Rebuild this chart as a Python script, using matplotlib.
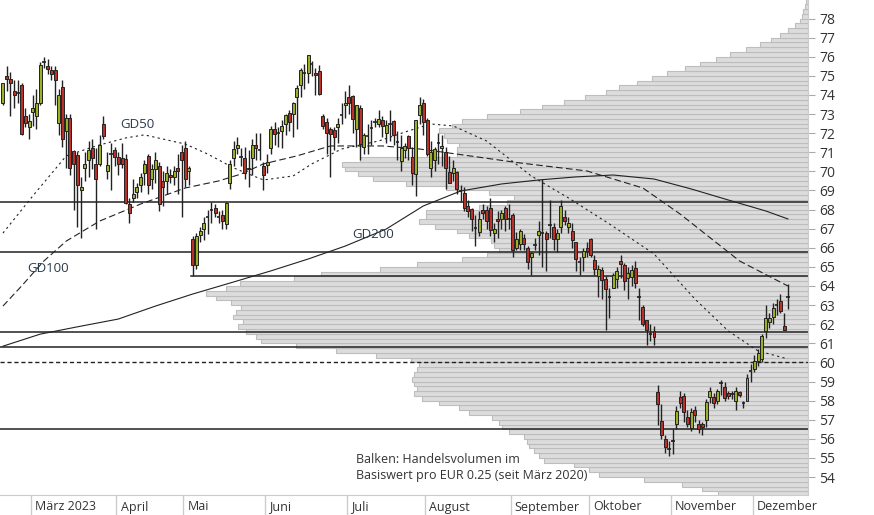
import numpy as np
import pandas as pd
import matplotlib
matplotlib.use("Agg")
import matplotlib.pyplot as plt
from matplotlib.transforms import blended_transform_factory

plt.rcParams["font.family"] = ["Open Sans", "DejaVu Sans"]

# ---- daily candles (EUR), Feb 17 2023 .. Dec 6 2023 ----
opens = [
    73.6, 75.0, 74.85, 74.2, 74.1, 74.5, 72.9, 72.3, 73.1, 72.9, 73.6, 75.7, 75.5, 75.3, 75.3, 72.55,
    74.4, 72.1, 72.8, 71.05, 70.85, 69.0, 70.2, 70.6, 71.2, 70.4, 70.4, 72.5, 70.0, 70.9, 71.1, 70.75,
    70.7, 70.65, 68.3, 68.6, 68.9, 69.3, 69.9, 70.8, 69.6, 70.1, 70.3, 69.5, 69.5, 69.8, 69.7, 70.2,
    71.0, 71.2, 70.0, 66.45, 65.1, 66.65, 67.0, 67.6, 68.0, 68.1, 67.6, 67.7, 67.25, 69.4, 70.7, 71.2,
    70.75, 70.7, 70.1, 70.7, 71.4, 71.1, 70.3, 70.35, 71.2, 72.2, 72.0, 72.1, 72.5, 73.05, 73.0, 73.9,
    74.5, 75.15, 75.15, 75.6, 75.15, 75.25, 72.9, 72.6, 72.2, 72.15, 72.3, 72.95, 73.5, 73.9, 73.95, 72.2,
    73.3, 71.3, 71.85, 72.25, 72.6, 72.5, 72.7, 72.0, 72.55, 72.65, 71.55, 70.55, 71.1, 71.85, 70.75, 69.85,
    72.95, 73.6, 72.7, 70.2, 70.6, 71.5, 71.2, 71.0, 69.95, 69.9, 69.95, 68.95, 68.85, 68.2, 68.05, 67.05,
    66.85, 68.0, 68.0, 68.1, 66.8, 67.5, 67.5, 68.1, 67.5, 67.7, 66.0, 66.2, 66.5, 66.0, 65.5, 66.15,
    66.65, 66.8, 66.8, 67.2, 67.1, 66.45, 67.1, 67.6, 67.1, 66.9, 66.3, 65.25, 65.5, 66.0, 66.45, 65.35,
    64.5, 64.85, 64.35, 63.4, 63.9, 64.35, 65.3, 65.1, 64.4, 64.45, 64.95, 63.4, 62.9, 62.2, 61.5, 61.65,
    58.45, 56.95, 56.0, 55.45, 55.9, 56.8, 58.2, 58.25, 57.15, 56.55, 57.5, 56.8, 56.8, 57.0, 58.2, 58.2,
    58.0, 58.9, 58.7, 58.4, 58.35, 58.0, 58.45, 57.9, 58.0, 59.55, 59.65, 60.1, 60.2, 61.65, 62.1, 62.4,
    63.0, 63.2, 61.9, 63.4,
]
highs = [
    74.65, 75.5, 75.2, 74.8, 74.8, 74.6, 73.3, 73.0, 74.0, 74.3, 75.7, 76.0, 75.9, 75.5, 75.5, 74.3,
    74.8, 73.0, 73.0, 71.1, 71.0, 69.7, 71.0, 71.6, 71.7, 71.2, 71.9, 72.9, 71.0, 71.5, 71.3, 71.0,
    71.5, 70.9, 68.6, 69.6, 69.4, 69.9, 70.6, 70.9, 70.4, 71.0, 70.5, 70.0, 70.3, 70.1, 70.3, 70.9,
    71.4, 71.6, 70.3, 66.6, 66.8, 67.1, 67.6, 68.0, 68.4, 68.3, 67.9, 68.0, 68.4, 70.6, 71.6, 71.8,
    71.2, 71.3, 71.1, 71.7, 72.0, 72.0, 70.5, 70.9, 72.4, 72.6, 72.3, 72.7, 73.0, 73.2, 73.65, 74.5,
    75.4, 75.6, 76.1, 75.8, 75.4, 75.55, 73.0, 72.8, 72.3, 72.3, 72.8, 73.6, 74.2, 74.5, 74.0, 73.5,
    73.5, 72.0, 72.5, 72.7, 72.8, 73.2, 72.9, 72.7, 73.2, 72.7, 72.1, 71.9, 71.5, 71.9, 71.3, 72.7,
    73.9, 73.8, 72.8, 71.6, 71.3, 72.0, 71.9, 71.3, 70.8, 70.6, 70.0, 69.3, 69.2, 68.5, 68.1, 67.7,
    67.9, 68.3, 68.2, 68.6, 67.3, 67.9, 68.0, 68.2, 68.3, 67.8, 66.85, 67.0, 66.7, 66.1, 65.8, 66.5,
    67.4, 69.6, 66.9, 68.5, 67.3, 67.0, 68.5, 68.0, 67.6, 67.3, 66.3, 65.5, 66.0, 66.3, 66.5, 65.6,
    65.1, 65.0, 64.5, 63.9, 64.7, 65.0, 65.6, 65.2, 65.0, 65.1, 65.3, 63.9, 63.0, 62.2, 62.0, 61.9,
    58.8, 57.8, 56.2, 55.9, 56.5, 57.7, 58.5, 58.4, 57.5, 57.6, 57.7, 57.0, 56.9, 58.1, 58.7, 58.4,
    58.6, 59.1, 59.0, 58.5, 58.5, 58.7, 58.5, 58.0, 59.4, 59.9, 60.4, 60.7, 61.5, 63.0, 62.6, 63.1,
    63.3, 63.6, 62.6, 64.1,
]
lows = [
    73.45, 74.2, 72.9, 73.3, 73.6, 71.9, 72.3, 71.7, 72.4, 72.2, 73.5, 75.4, 75.1, 74.8, 73.5, 71.9,
    71.3, 70.2, 69.8, 68.0, 67.1, 66.5, 69.5, 69.7, 70.1, 67.0, 70.3, 71.7, 69.6, 69.0, 70.3, 69.8,
    70.2, 68.3, 67.3, 68.4, 68.6, 68.9, 69.3, 68.8, 69.1, 69.4, 67.9, 68.2, 68.8, 69.4, 69.3, 68.8,
    67.6, 69.2, 69.3, 64.5, 64.9, 66.3, 66.4, 66.7, 67.3, 67.6, 67.3, 67.0, 67.0, 69.1, 70.3, 70.9,
    70.3, 69.6, 69.2, 69.8, 70.6, 70.6, 69.0, 69.9, 70.9, 71.4, 71.3, 71.2, 71.9, 72.1, 71.8, 72.2,
    73.9, 74.3, 74.6, 75.0, 74.0, 74.0, 72.2, 70.9, 69.7, 71.1, 71.5, 72.5, 72.8, 73.0, 72.0, 71.3,
    70.6, 70.9, 70.9, 71.4, 72.3, 72.3, 71.8, 71.5, 71.6, 71.4, 70.6, 70.0, 70.7, 70.6, 69.3, 68.7,
    72.5, 71.9, 70.8, 69.7, 70.0, 70.4, 70.3, 69.1, 69.4, 69.5, 68.8, 68.4, 67.9, 67.6, 66.9, 66.1,
    66.6, 67.5, 67.0, 66.6, 66.3, 66.5, 67.0, 66.9, 67.0, 65.5, 65.9, 65.9, 65.9, 64.9, 64.6, 65.9,
    65.6, 65.0, 64.8, 66.5, 65.9, 65.8, 66.8, 67.2, 66.8, 66.0, 64.8, 64.6, 64.8, 65.5, 65.5, 64.6,
    63.4, 63.3, 61.7, 62.3, 63.9, 63.9, 64.4, 63.8, 63.3, 64.0, 63.9, 62.2, 61.9, 60.9, 61.1, 60.9,
    56.7, 56.0, 55.25, 55.1, 55.2, 56.5, 57.6, 56.9, 56.6, 56.4, 56.9, 56.3, 56.2, 56.6, 57.9, 57.6,
    57.8, 58.3, 58.0, 58.1, 58.1, 57.5, 58.2, 57.6, 58.0, 59.0, 59.5, 59.8, 60.0, 61.3, 61.8, 62.0,
    62.5, 62.6, 61.7, 62.8,
]
closes = [
    74.6, 74.85, 74.6, 74.0, 74.1, 71.95, 72.55, 72.65, 73.3, 73.6, 75.55, 75.7, 75.35, 75.1, 74.8, 74.0,
    71.7, 72.8, 70.2, 70.4, 69.3, 69.2, 70.4, 71.1, 70.7, 69.6, 71.4, 71.85, 70.35, 70.9, 70.75, 70.4,
    70.4, 68.35, 67.8, 68.8, 69.2, 69.7, 70.4, 69.3, 70.1, 70.6, 68.3, 69.2, 69.9, 69.7, 70.0, 70.0,
    70.6, 69.6, 70.2, 65.1, 66.6, 66.9, 67.3, 67.6, 68.0, 67.8, 67.6, 67.4, 68.35, 70.4, 71.15, 71.4,
    70.75, 69.9, 70.2, 71.4, 71.2, 71.1, 69.8, 70.5, 72.2, 71.95, 72.0, 72.4, 72.95, 72.6, 73.6, 74.35,
    75.3, 75.15, 76.1, 75.6, 75.05, 74.05, 72.4, 72.0, 71.95, 71.8, 72.5, 72.95, 73.6, 73.6, 72.75, 73.5,
    71.45, 71.9, 71.85, 72.25, 72.6, 72.75, 72.4, 72.45, 72.5, 71.9, 71.55, 71.2, 71.35, 71.2, 69.9, 72.7,
    73.5, 72.6, 70.9, 71.0, 71.15, 71.5, 71.35, 70.2, 69.4, 70.2, 69.1, 68.95, 68.1, 67.95, 67.5, 67.05,
    67.5, 67.8, 67.4, 66.95, 67.0, 67.4, 67.8, 67.5, 67.5, 65.9, 66.45, 66.9, 66.2, 65.25, 65.75, 66.15,
    66.9, 66.8, 66.45, 67.2, 66.45, 66.8, 68.2, 67.4, 67.3, 66.4, 65.4, 65.25, 65.85, 65.85, 65.6, 64.9,
    64.9, 64.3, 63.85, 63.4, 64.55, 64.8, 65.15, 64.25, 64.7, 64.85, 64.15, 63.4, 62.0, 61.7, 61.5, 61.35,
    57.8, 56.2, 55.55, 55.45, 55.95, 57.45, 57.9, 57.4, 56.8, 57.4, 57.25, 56.5, 56.6, 57.95, 58.5, 57.9,
    58.5, 58.9, 58.15, 58.25, 58.35, 58.5, 58.3, 57.9, 59.2, 59.55, 60.05, 60.5, 61.4, 62.35, 62.35, 62.85,
    63.0, 62.7, 61.7, 63.4,
]

# moving averages, read at selected candle indices
gd50_idx = [0, 8, 17, 25, 33, 38, 49, 55, 62, 70, 78, 83, 91, 101, 109, 115, 121, 130, 142, 152, 163, 175, 186, 195, 203, 211]
gd50_val = [66.77, 68.71, 70.81, 71.33, 71.75, 71.91, 71.43, 70.91, 70.18, 69.55, 69.76, 70.39, 71.17, 71.59, 72.12, 72.48,
            72.38, 71.59, 69.76, 68.61, 67.25, 65.68, 63.32, 61.64, 60.60, 60.18]
gd100_idx = [0, 5, 11, 17, 26, 37, 49, 58, 64, 70, 79, 88, 102, 112, 120, 139, 157, 172, 182, 198, 211]
gd100_val = [62.95, 64.0, 65.31, 66.35, 67.40, 68.29, 69.13, 69.50, 69.86, 70.39, 70.81, 71.33, 71.33, 71.17, 70.96,
             70.44, 70.02, 69.13, 67.77, 65.31, 64.0]
gd200_idx = [0, 10, 21, 31, 41, 51, 62, 72, 82, 92, 103, 113, 123, 134, 144, 154, 164, 175, 185, 195, 205, 211]
gd200_val = [60.85, 61.48, 61.90, 62.27, 62.95, 63.58, 64.21, 64.79, 65.41, 66.09, 66.98, 68.19, 68.97, 69.34, 69.55,
             69.71, 69.81, 69.60, 69.08, 68.50, 67.93, 67.51]

# support / resistance levels
levels = [68.4, 65.8, 61.6, 60.8, 56.5]
partial_level = 64.5
partial_level_start = 51
dotted_level = 60.0

# volume profile per EUR 0.25 bin, bottom bin 53.00
profile_bottom = 53.0
profile_step = 0.25
profile_volume = [
    90, 106, 126, 163, 208, 218, 233, 263, 268, 273, 278, 280, 283, 298, 305, 308,
    315, 338, 348, 368, 385, 393, 390, 393, 395, 393, 390, 388, 396, 430, 470, 510,
    545, 550, 560, 568, 563, 573, 570, 565, 575, 590, 600, 580, 566, 512, 485, 426,
    390, 345, 320, 308, 313, 316, 338, 350, 372, 388, 381, 381, 328, 300, 293, 318,
    361, 401, 433, 448, 461, 464, 446, 350, 350, 348, 360, 363, 368, 355, 345, 320,
    287, 265, 243, 222, 201, 188, 170, 155, 140, 123, 108, 92, 78, 62, 48, 37,
    28, 20, 13, 8, 6, 5, 3, 2,
]

month_labels = ["März 2023", "April", "Mai", "Juni", "Juli", "August", "September", "Oktober", "November", "Dezember"]

UP = "#9cb026"
DOWN = "#b8322a"
LINE = "#222222"

dates = pd.bdate_range("2023-02-17", "2023-12-31")
dates = dates[~dates.isin(pd.to_datetime(["2023-04-07", "2023-04-10", "2023-05-01"]))][: len(closes)]
month_start = [i for i in range(1, len(dates)) if dates[i].month != dates[i - 1].month]

fig = plt.figure(figsize=(8.74, 5.15), dpi=100)
ax = fig.add_axes([0, 20 / 515, 808 / 874, 495 / 515])
axv = ax.twiny()

# volume profile (behind)
prices = profile_bottom + profile_step * np.arange(len(profile_volume))
axv.barh(prices, profile_volume, height=profile_step, align="edge",
         color="#dcdcdc", edgecolor="#bdbdbd", linewidth=0.8)
axv.set_xlim(805, 0)
axv.axis("off")
ax.set_zorder(axv.get_zorder() + 1)
ax.patch.set_visible(False)

x = np.arange(len(closes))
xmax = 216.4
for lv in levels:
    ax.axhline(lv, color=LINE, lw=1.1, zorder=2)
ax.plot([partial_level_start - 0.4, xmax], [partial_level, partial_level], color=LINE, lw=1.1, zorder=2)
ax.plot([partial_level_start - 0.4, partial_level_start - 0.4], [partial_level, lows[partial_level_start]],
        color=LINE, lw=1.1, zorder=2)
ax.axhline(dotted_level, color=LINE, lw=1.0, ls=(0, (3, 2)), zorder=2)

ax.plot(gd50_idx, gd50_val, color=LINE, lw=0.8, ls=(0, (2, 3)), zorder=3)
ax.plot(gd100_idx, gd100_val, color=LINE, lw=0.8, ls=(0, (6, 3)), zorder=3)
ax.plot(gd200_idx, gd200_val, color=LINE, lw=0.8, zorder=3)

# candles
for i in x:
    o, h, l, c = opens[i], highs[i], lows[i], closes[i]
    ax.vlines(i, l, h, color="#222222", lw=1.0, zorder=4)
    col = UP if c >= o else DOWN
    lo, hi = min(o, c), max(o, c)
    if hi - lo < 0.05:
        ax.hlines(c, i - 0.45, i + 0.45, color="#222222", lw=1.2, zorder=5)
    else:
        ax.bar(i, hi - lo, bottom=lo, width=0.8, color=col, edgecolor="#222222", lw=0.7, zorder=5)

ax.set_xlim(-0.8, xmax)
ax.set_ylim(53.06, 78.97)

ax.yaxis.tick_right()
ax.set_yticks(range(54, 79))
ax.tick_params(axis="y", length=5, color="#aaaaaa", labelsize=10, labelcolor="#333333", pad=3)
ax.set_xticks([m - 0.5 for m in month_start])
ax.set_xticklabels([])
ax.tick_params(axis="x", length=20, color="#cccccc", width=1)
tr = blended_transform_factory(ax.transData, fig.transFigure)
for m, lab in zip(month_start, month_labels):
    fig.text(m + 0.6, 8 / 515, lab, transform=tr, fontsize=9, color="#333333", ha="left", va="center")

for s in ["top", "left"]:
    ax.spines[s].set_visible(False)
ax.spines["right"].set_color("#cccccc")
ax.spines["bottom"].set_color("#cccccc")

lab_kw = dict(fontsize=9.5, color="#2b3a4a", zorder=6)
ax.text(36, 72.45, "GD50", ha="center", va="center", **lab_kw)
ax.text(12, 64.9, "GD100", ha="center", va="center", **lab_kw)
ax.text(99.5, 66.7, "GD200", ha="center", va="center", **lab_kw)
ax.text(95, 54.5, "Balken: Handelsvolumen im\nBasiswert pro EUR 0.25 (seit März 2020)",
        fontsize=9, color="#333333", ha="left", va="center", linespacing=1.35, zorder=6)

fig.savefig("out.png", dpi=100)
